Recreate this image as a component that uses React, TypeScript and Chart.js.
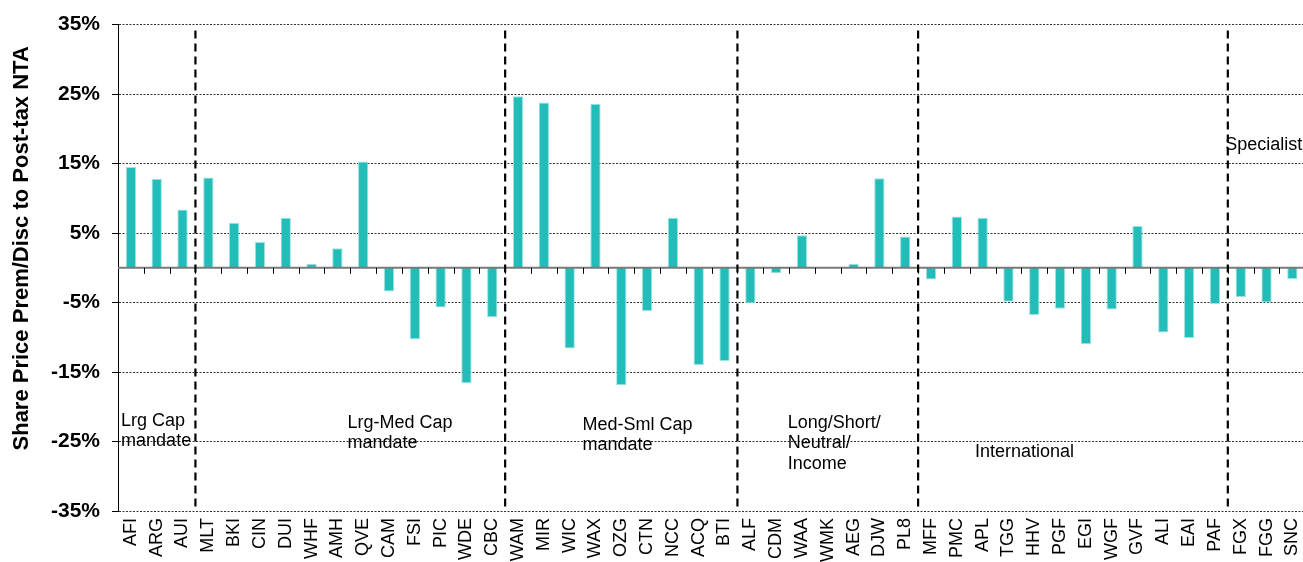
import React, { useEffect, useRef } from 'react';
import { Chart, registerables } from 'chart.js';

Chart.register(...registerables);

const categories = ['AFI', 'ARG', 'AUI', 'MLT', 'BKI', 'CIN', 'DUI', 'WHF', 'AMH', 'QVE', 'CAM', 'FSI', 'PIC', 'WDE', 'CBC', 'WAM', 'MIR', 'WIC', 'WAX', 'OZG', 'CTN', 'NCC', 'ACQ', 'BTI', 'ALF', 'CDM', 'WAA', 'WMK', 'AEG', 'DJW', 'PL8', 'MFF', 'PMC', 'APL', 'TGG', 'HHV', 'PGF', 'EGI', 'WGF', 'GVF', 'ALI', 'EAI', 'PAF', 'FGX', 'FGG', 'SNC'];

const premDisc = [14.5, 12.8, 8.4, 13.0, 6.5, 3.7, 7.2, 0.6, 2.8, 15.3, -3.4, -10.3, -5.7, -16.6, -7.1, 24.7, 23.8, -11.6, 23.6, -16.9, -6.2, 7.2, -14.0, -13.4, -5.1, -0.8, 4.7, 0.0, 0.6, 12.9, 4.5, -1.7, 7.4, 7.2, -4.9, -6.8, -5.9, -11.0, -6.0, 6.0, -9.3, -10.1, -5.2, -4.2, -5.0, -1.6];

const yMin = -35;
const yMax = 35;
const yStep = 10;

const yTitle = 'Share Price Prem/Disc to Post-tax NTA';

// group separators sit between categories (fractional category index)
const groupBreaks = [2.5, 14.5, 23.5, 30.5, 42.5];

// group captions: lines, anchor at a fractional category index and a value on the y scale (baseline of first line)
const groupLabelLines = [
  ['Lrg Cap', 'mandate'],
  ['Lrg-Med Cap', 'mandate'],
  ['Med-Sml Cap', 'mandate'],
  ['Long/Short/', 'Neutral/', 'Income'],
  ['International'],
  ['Specialist'],
];
const groupLabelX = [-0.38, 8.39, 17.5, 25.45, 32.7, 42.4];
const groupLabelY = [-22.7, -23.0, -23.3, -23.0, -27.3, 17.0];

const FONT = "'Liberation Sans', Arial, sans-serif";

const overlayPlugin = {
  id: 'overlay',
  afterDatasetsDraw(chart: any) {
    const { ctx, chartArea, scales } = chart;
    const x = scales.x;
    const y = scales.y;
    const y0 = y.getPixelForValue(0);
    ctx.save();
    // zero line
    ctx.strokeStyle = '#7a7a7a';
    ctx.lineWidth = 2;
    ctx.beginPath();
    ctx.moveTo(chartArea.left, y0);
    ctx.lineTo(chartArea.right, y0);
    ctx.stroke();
    // category tick marks below zero line
    ctx.strokeStyle = '#000';
    ctx.lineWidth = 1;
    for (let i = 1; i < categories.length; i++) {
      const px = Math.round(x.getPixelForValue(i - 0.5)) + 0.5;
      ctx.beginPath();
      ctx.moveTo(px, y0);
      ctx.lineTo(px, y0 + 6);
      ctx.stroke();
    }
    // group separators
    ctx.setLineDash([8, 5]);
    ctx.lineWidth = 2.2;
    ctx.strokeStyle = '#000';
    for (const b of groupBreaks) {
      const px = x.getPixelForValue(b);
      ctx.beginPath();
      ctx.moveTo(px, chartArea.top + 6);
      ctx.lineTo(px, chartArea.bottom);
      ctx.stroke();
    }
    ctx.setLineDash([]);
    // group captions
    ctx.fillStyle = '#000';
    ctx.font = `18px ${FONT}`;
    ctx.textAlign = 'left';
    ctx.textBaseline = 'alphabetic';
    groupLabelLines.forEach((lines, gi) => {
      const px = x.getPixelForValue(groupLabelX[gi]);
      const py = y.getPixelForValue(groupLabelY[gi]);
      lines.forEach((ln, li) => ctx.fillText(ln, px, py + li * 20.5));
    });
    // y-axis title
    ctx.font = `bold 22px ${FONT}`;
    ctx.textAlign = 'center';
    ctx.textBaseline = 'middle';
    ctx.translate(22, chartArea.top + (chartArea.bottom - chartArea.top) * 0.46);
    ctx.rotate(-Math.PI / 2);
    ctx.fillText(yTitle, 0, 0);
    ctx.restore();
  },
};

export default function App() {
  const ref = useRef<HTMLCanvasElement>(null);
  useEffect(() => {
    document.body.style.margin = '0';
    const canvas = ref.current;
    if (!canvas) return;
    const chart = new Chart(canvas, {
      type: 'bar',
      data: {
        labels: categories,
        datasets: [
          {
            data: premDisc,
            backgroundColor: '#22BDB8',
            borderColor: '#9fe3e0',
            borderWidth: 1,
            barPercentage: 0.4,
            categoryPercentage: 1,
          },
        ],
      },
      options: {
        responsive: false,
        animation: false,
        devicePixelRatio: 1,
        layout: { padding: { top: 22, right: 5, left: 0, bottom: 0 } },
        plugins: { legend: { display: false }, tooltip: { enabled: false }, title: { display: false } },
        scales: {
          x: {
            type: 'category',
            offset: true,
            grid: { display: false, drawTicks: false },
            border: { display: false },
            ticks: {
              autoSkip: false,
              maxRotation: 90,
              minRotation: 90,
              padding: 7,
              color: '#000',
              font: { family: FONT, size: 18 },
            },
            afterFit: (scale: any) => {
              scale.height = 51;
            },
          },
          y: {
            type: 'linear',
            min: yMin,
            max: yMax,
            grid: {
              color: '#333',
              lineWidth: 1,
              drawTicks: true,
              tickLength: 6,
              tickColor: '#000',
              tickWidth: 1,
            },
            border: { display: true, color: '#000', width: 1, dash: [2, 1.5] },
            ticks: {
              stepSize: yStep,
              padding: 12,
              color: '#000',
              font: { family: FONT, size: 21, weight: 'bold' },
              callback: (v: any) => `${v}%`,
            },
            afterFit: (scale: any) => {
              scale.width = 118;
            },
          },
        },
      },
      plugins: [overlayPlugin],
    });
    return () => chart.destroy();
  }, []);
  return (
    <div style={{ position: 'fixed', left: 0, top: 0, width: 1303, height: 562, overflow: 'hidden', background: '#fff' }}>
      <canvas ref={ref} width={1321} height={562} style={{ display: 'block' }} />
    </div>
  );
}
